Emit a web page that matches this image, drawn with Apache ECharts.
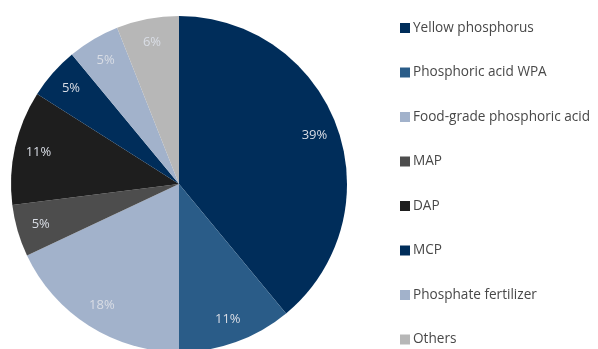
<!DOCTYPE html>
<html>
<head>
<meta charset="utf-8">
<script src="https://cdn.jsdelivr.net/npm/echarts@6/dist/echarts.min.js"></script>
<style>
  html, body { margin: 0; padding: 0; background: #fff; }
  #chart { width: 598px; height: 349px; }
</style>
</head>
<body>
<div id="chart"></div>
<script>
// Segment names, shares (%) and fill colours, clockwise from 12 o'clock
const categories = [
  'Yellow phosphorus',
  'Phosphoric acid WPA',
  'Food-grade phosphoric acid',
  'MAP',
  'DAP',
  'MCP',
  'Phosphate fertilizer',
  'Others'
];
const shares = [39, 11, 18, 5, 11, 5, 5, 6];
const colors = ['#002d5a', '#2a5c88', '#a2b2cb', '#4d4d4d', '#1e1e1e', '#002d5a', '#a2b2cb', '#b7b7b7'];

const FONT = '"Open Sans", "Noto Sans", sans-serif';

const pieData = categories.map((name, i) => ({
  name: name,
  value: shares[i],
  itemStyle: { color: colors[i] }
}));

const chart = echarts.init(document.getElementById('chart'), null, { renderer: 'canvas' });
chart.setOption({
  animation: false,
  backgroundColor: '#ffffff',
  legend: {
    orient: 'vertical',
    left: 400,
    top: 21,
    padding: 0,
    itemWidth: 10,
    itemHeight: 10,
    itemGap: 30.5,
    icon: 'rect',
    selectedMode: false,
    data: categories,
    textStyle: { fontFamily: FONT, fontSize: 13.6, color: '#484848', lineHeight: 14, padding: [0, 0, 0, -2] }
  },
  series: [
    {
      // solid wedges
      type: 'pie',
      center: [179, 184],
      radius: [0, 168],
      startAngle: 90,
      clockwise: true,
      silent: true,
      label: { show: false },
      labelLine: { show: false },
      itemStyle: { borderWidth: 0 },
      data: pieData
    },
    {
      // percentage labels placed on a ring near the rim
      type: 'pie',
      center: [179, 184],
      radius: [114, 168],
      startAngle: 90,
      clockwise: true,
      silent: true,
      itemStyle: { color: 'rgba(0,0,0,0)', borderWidth: 0 },
      label: {
        show: true,
        position: 'inside',
        formatter: p => p.value + '%',
        color: '#d9dde5',
        fontFamily: FONT,
        fontSize: 13
      },
      labelLine: { show: false },
      data: categories.map((name, i) => ({ name: name, value: shares[i] }))
    }
  ]
});
</script>
</body>
</html>
